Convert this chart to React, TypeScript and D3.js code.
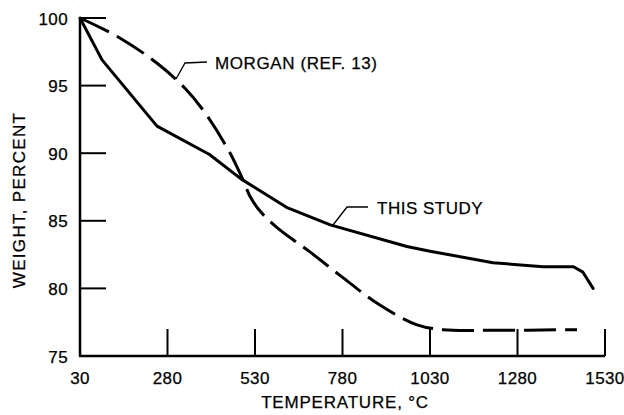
import React from "react";
import * as d3 from "d3";

const xTicks = [30, 280, 530, 780, 1030, 1280, 1530];
const yTicks = [75, 80, 85, 90, 95, 100];

const thisStudyTemp = [30, 93, 250, 400, 490, 620, 745, 964, 1030, 1210, 1353, 1440, 1467, 1496];
const thisStudyWeight = [100, 96.9, 92, 89.9, 88.1, 86.0, 84.7, 83.1, 82.75, 81.9, 81.6, 81.6, 81.2, 80.0];

const morganTemp = [30, 139, 253, 330, 387, 459, 496, 516, 545, 593, 687, 781, 879, 993, 1067, 1200, 1450];
const morganWeight = [100, 98.6, 96.6, 94.8, 93.0, 90.0, 88.0, 86.8, 85.7, 84.5, 82.7, 80.8, 78.9, 77.3, 76.95, 76.9, 76.95];

const xTitle = "TEMPERATURE, °C";
const yTitle = "WEIGHT, PERCENT";
const morganLabel = "MORGAN (REF. 13)";
const studyLabel = "THIS STUDY";

export default function App() {
  const W = 624;
  const H = 415;
  const x = d3.scaleLinear().domain([30, 1530]).range([80, 605]);
  const y = d3.scaleLinear().domain([75, 100]).range([356, 18]);

  const studyPts: [number, number][] = thisStudyTemp.map((t, i) => [x(t), y(thisStudyWeight[i])]);
  const morganPts: [number, number][] = morganTemp.map((t, i) => [x(t), y(morganWeight[i])]);

  const lineLin = d3.line<[number, number]>().curve(d3.curveLinear);
  const lineSmooth = d3.line<[number, number]>().curve(d3.curveCatmullRom.alpha(0.5));

  const font = "'Liberation Sans', Arial, Helvetica, sans-serif";
  const ts = { stroke: "#000", strokeWidth: 0.25 };

  return (
    <svg width={W} height={H} style={{ position: "absolute", left: 0, top: 0, background: "#fff" }}>
      <g fontFamily={font} fill="#000">
        {/* axes */}
        <line x1={x(30)} y1={y(100)} x2={x(30)} y2={y(75)} stroke="#000" strokeWidth={2.5} />
        <line x1={x(30) - 1} y1={y(75)} x2={x(1530)} y2={y(75)} stroke="#000" strokeWidth={2.5} />
        {yTicks.filter((v) => v !== 75).map((v) => (
          <line key={"yt" + v} x1={x(30)} y1={y(v)} x2={x(30) + 26} y2={y(v)} stroke="#000" strokeWidth={2} />
        ))}
        {xTicks.filter((t) => t !== 30).map((t) => (
          <line key={"xt" + t} x1={x(t)} y1={y(75)} x2={x(t)} y2={y(75) - 27} stroke="#000" strokeWidth={2} />
        ))}
        {yTicks.map((v) => (
          <text key={"yl" + v} x={68} y={y(v) + 6.5} textAnchor="end" fontSize={17} letterSpacing={0.4} {...ts}>
            {v}
          </text>
        ))}
        {xTicks.map((t) => (
          <text key={"xl" + t} x={x(t)} y={384} textAnchor="middle" fontSize={17} letterSpacing={0.4} {...ts}>
            {t}
          </text>
        ))}
        <text x={345} y={408} textAnchor="middle" fontSize={17} letterSpacing={0.8} {...ts}>
          {xTitle}
        </text>
        <text transform="translate(25,200) rotate(-90)" textAnchor="middle" fontSize={17} letterSpacing={1.3} {...ts}>
          {yTitle}
        </text>

        {/* curves */}
        <path d={lineLin(studyPts) || ""} fill="none" stroke="#000" strokeWidth={3} strokeLinejoin="round" strokeLinecap="round" />
        <path d={lineSmooth(morganPts) || ""} fill="none" stroke="#000" strokeWidth={3} strokeDasharray="32 9" strokeLinecap="butt" />

        {/* leaders and labels */}
        <polyline points="176,79 185,63 207,62" fill="none" stroke="#000" strokeWidth={1.3} />
        <text x={215} y={69} fontSize={17} letterSpacing={0.6} {...ts}>
          {morganLabel}
        </text>
        <polyline points="333,225 347,207 368,207" fill="none" stroke="#000" strokeWidth={1.3} />
        <text x={377} y={214} fontSize={17} letterSpacing={0.5} {...ts}>
          {studyLabel}
        </text>
      </g>
    </svg>
  );
}
